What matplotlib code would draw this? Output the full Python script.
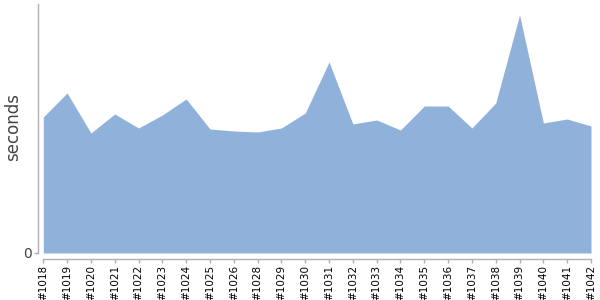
import matplotlib
matplotlib.use("Agg")
import matplotlib.pyplot as plt

builds = ["#1018", "#1019", "#1020", "#1021", "#1022", "#1023", "#1024", "#1025",
          "#1026", "#1028", "#1029", "#1030", "#1031", "#1032", "#1033", "#1034",
          "#1035", "#1036", "#1037", "#1038", "#1039", "#1040", "#1041", "#1042"]
seconds = [136, 160, 120, 139, 125, 138, 154, 124,
           122, 121, 125, 140, 191, 129, 133, 123,
           147, 147, 125, 150, 238, 130, 134, 127]

AREA = "#8fb1da"
AXIS = "#b0b0b0"

fig = plt.figure(figsize=(6, 3), dpi=100)
# data region: x 43..591 px, y 4..253 px
ax = fig.add_axes([43.3 / 600, (300 - 253) / 300, (591 - 43.3) / 600, (253 - 4) / 300])

# spine positions first: set_position resets the tick styling
for s in ["top", "right"]:
    ax.spines[s].set_visible(False)
for s in ["left", "bottom"]:
    ax.spines[s].set_color(AXIS)
    ax.spines[s].set_linewidth(1)
    ax.spines[s].set_position(("outward", 4))

x = list(range(len(builds)))
ax.fill_between(x, seconds, 0, color=AREA, linewidth=0)

ax.set_xlim(0, len(builds) - 1)
ax.set_ylim(0, 249)
ax.spines["left"].set_bounds(0, 249)
ax.spines["bottom"].set_bounds(0, len(builds) - 1)

ax.set_xticks(x)
ax.set_xticklabels(builds, rotation=90, fontsize=7.5, color="black")
ax.set_yticks([0])
ax.set_yticklabels(["0"], fontsize=10, color="#444444")
ax.tick_params(axis="both", color=AXIS, length=3, width=1, pad=1.5)

fig.text(13 / 600, 1 - 127 / 300, "seconds", rotation=90, fontsize=12,
         color="#444444", ha="center", va="center")

fig.savefig("out.png", dpi=100)
